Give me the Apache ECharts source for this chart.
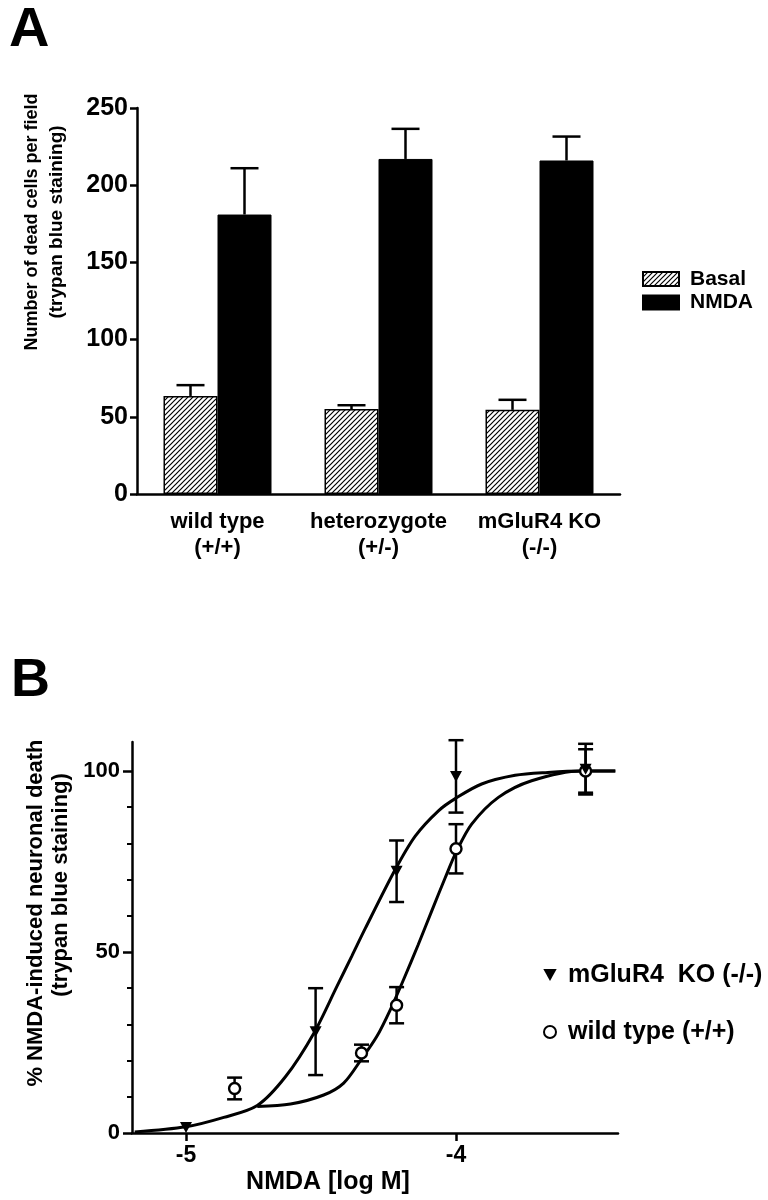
<!DOCTYPE html>
<html><head><meta charset="utf-8">
<script src="https://cdn.jsdelivr.net/npm/echarts@6/dist/echarts.min.js"></script>
<style>html,body{margin:0;padding:0;background:#fff}#c{width:768px;height:1200px}</style>
</head><body><div id="c"></div>
<script>
const FONT = '"Liberation Sans", Arial, Helvetica, sans-serif';

// ---------- Panel A data ----------
const genotypes = ['wild type\n(+/+)', 'heterozygote\n(+/-)', 'mGluR4 KO\n(-/-)'];
const basalMean = [63.5, 55, 54.5];
const basalSem  = [7, 2.5, 6.5];
const nmdaMean  = [181, 217, 216];
const nmdaSem   = [30, 19.5, 15.5];

// ---------- Panel B data ----------
const koLogM = [-5, -4.52, -4.22, -4, -3.52];
const koPct  = [1.5, 28, 72.3, 98.5, 100.5];
const koSem  = [0, 12, 8.5, 10, 7];
const wtLogM = [-4.82, -4.35, -4.22, -4, -3.52];
const wtPct  = [12.3, 22.1, 35.3, 78.5, 100];
const wtSem  = [3, 2.3, 5, 6.8, 6];
// fitted curves, points
const koFitLogM = [-5.19, -5.0, -4.86, -4.736, -4.631, -4.527, -4.441, -4.385, -4.336, -4.227, -4.151, -4.065, -4.0, -3.905, -3.781, -3.66, -3.535, -3.41];
const koFitPct  = [0.3, 1.7, 4.3, 7.6, 15.6, 27.5, 40.5, 49, 56.5, 72.5, 82, 89, 92.5, 96.4, 98.8, 99.6, 100, 100];
const wtFitLogM = [-4.736, -4.613, -4.49, -4.416, -4.352, -4.293, -4.243, -4.194, -4.14, -4.089, -4.04, -4.0, -3.942, -3.843, -3.72, -3.535, -3.41];
const wtFitPct  = [7.3, 8.0, 10.5, 13.8, 20.2, 26.7, 34.1, 42.4, 52, 61.5, 70.5, 77.5, 85.3, 92.7, 97.3, 100, 100];
const xTicksB  = [-5, -4];
const yLabelsB = [0, 50, 100];
const yMinorB  = [10, 20, 30, 40, 60, 70, 80, 90];

// hatch pattern for Basal bars
const T = 5;
const pc = document.createElement('canvas'); pc.width = T; pc.height = T;
const ctx = pc.getContext('2d');
ctx.fillStyle = '#fff'; ctx.fillRect(0, 0, T, T);
ctx.strokeStyle = '#000'; ctx.lineWidth = 1.2;
ctx.beginPath();
ctx.moveTo(-1, T + 1); ctx.lineTo(T + 1, -1);
ctx.moveTo(-1, 1); ctx.lineTo(1, -1);
ctx.moveTo(T - 1, T + 1); ctx.lineTo(T + 1, T - 1);
ctx.stroke();
const hatch = { image: pc, repeat: 'repeat' };

const BAR_W = 54;
const lineStyle = { stroke: '#000', lineWidth: 2.5 };

function errA(params, api) {
  const side = api.value(3);
  const base = api.coord([api.value(0), api.value(1)]);
  const top = api.coord([api.value(0), api.value(1) + api.value(2)]);
  const x = base[0] + side * BAR_W / 2;
  const hw = 14;
  return { type: 'group', children: [
    { type: 'line', shape: { x1: x, y1: base[1], x2: x, y2: top[1] }, style: lineStyle },
    { type: 'line', shape: { x1: x - hw, y1: top[1], x2: x + hw, y2: top[1] }, style: lineStyle }
  ]};
}
function errB(params, api) {
  const x = api.value(0), y = api.value(1), e = api.value(2);
  if (!e) return null;
  const t = api.coord([x, y + e]), b = api.coord([x, y - e]);
  const hw = 7.5;
  return { type: 'group', children: [
    { type: 'line', shape: { x1: t[0], y1: t[1], x2: b[0], y2: b[1] }, style: lineStyle },
    { type: 'line', shape: { x1: t[0] - hw, y1: t[1], x2: t[0] + hw, y2: t[1] }, style: lineStyle },
    { type: 'line', shape: { x1: b[0] - hw, y1: b[1], x2: b[0] + hw, y2: b[1] }, style: lineStyle }
  ]};
}

const axisLineStyle = { show: true, lineStyle: { color: '#000', width: 2.5 } };
const labelStyle = { color: '#000', fontWeight: 'bold', fontFamily: FONT };

const chart = echarts.init(document.getElementById('c'), null, { renderer: 'canvas' });
chart.setOption({
  animation: false,
  backgroundColor: '#fff',
  textStyle: { fontFamily: FONT },
  grid: [
    { left: 137, top: 108, width: 483, height: 386 },
    { left: 132, top: 742, width: 486, height: 391 }
  ],
  xAxis: [
    { gridIndex: 0, type: 'category', data: genotypes,
      axisLine: axisLineStyle, axisTick: { show: false },
      axisLabel: Object.assign({ interval: 0, fontSize: 22, lineHeight: 26, margin: 15 }, labelStyle) },
    { gridIndex: 1, type: 'value', min: -5.2, max: -3.4,
      axisLine: Object.assign({ onZero: false }, axisLineStyle),
      axisTick: { show: true, customValues: xTicksB, length: 8, lineStyle: { color: '#000', width: 2.5 } },
      axisLabel: Object.assign({ customValues: xTicksB, fontSize: 23, margin: 11 }, labelStyle),
      splitLine: { show: false } }
  ],
  yAxis: [
    { gridIndex: 0, type: 'value', min: 0, max: 250, interval: 50,
      axisLine: axisLineStyle,
      axisTick: { show: true, length: 7, lineStyle: { color: '#000', width: 2.5 } },
      axisLabel: Object.assign({ fontSize: 25, margin: 9 }, labelStyle),
      splitLine: { show: false } },
    { gridIndex: 1, type: 'value', min: 0, max: 108, position: 'left',
      axisLine: axisLineStyle,
      axisTick: { show: true, customValues: yLabelsB, length: 9, lineStyle: { color: '#000', width: 2.5 } },
      axisLabel: Object.assign({ customValues: yLabelsB, fontSize: 22, margin: 12 }, labelStyle),
      splitLine: { show: false } },
    { gridIndex: 1, type: 'value', min: 0, max: 108, position: 'left',
      axisLine: { show: false },
      axisTick: { show: true, customValues: yMinorB, length: 5, lineStyle: { color: '#000', width: 2 } },
      axisLabel: { show: false },
      splitLine: { show: false } }
  ],
  legend: [
    { data: [{ name: 'Basal', icon: 'rect' }, { name: 'NMDA', icon: 'rect' }], orient: 'vertical', left: 637, top: 263,
      itemWidth: 36, itemHeight: 14, itemGap: 1.5, selectedMode: false,
      textStyle: { fontSize: 21, fontWeight: 'bold', color: '#000', fontFamily: FONT, lineHeight: 22, padding: [0, 0, 0, 6] } },
    { data: ['mGluR4  KO (-/-)', 'wild type (+/+)'], orient: 'vertical', left: 538, top: 956,
      itemWidth: 14, itemHeight: 12, itemGap: 29, selectedMode: false,
      textStyle: { fontSize: 25, fontWeight: 'bold', color: '#000', fontFamily: FONT, lineHeight: 28, padding: [0, 0, 0, 6] } }
  ],
  graphic: [
    { type: 'text', x: 9, y: 31, style: { text: 'A', font: 'bold 56px ' + FONT, fill: '#000', textAlign: 'left', textVerticalAlign: 'middle' } },
    { type: 'text', x: 11, y: 681, style: { text: 'B', font: 'bold 54px ' + FONT, fill: '#000', textAlign: 'left', textVerticalAlign: 'middle' } },
    { type: 'text', x: 32, y: 222, rotation: Math.PI / 2, style: { text: 'Number of dead cells per field', font: 'bold 18px ' + FONT, fill: '#000', textAlign: 'center', textVerticalAlign: 'middle' } },
    { type: 'text', x: 57, y: 222, rotation: Math.PI / 2, style: { text: '(trypan blue staining)', font: 'bold 19px ' + FONT, fill: '#000', textAlign: 'center', textVerticalAlign: 'middle' } },
    { type: 'text', x: 36, y: 913, rotation: Math.PI / 2, style: { text: '% NMDA-induced neuronal death', font: 'bold 22px ' + FONT, fill: '#000', textAlign: 'center', textVerticalAlign: 'middle' } },
    { type: 'text', x: 61, y: 885, rotation: Math.PI / 2, style: { text: '(trypan blue staining)', font: 'bold 22px ' + FONT, fill: '#000', textAlign: 'center', textVerticalAlign: 'middle' } },
    { type: 'text', x: 328, y: 1182, style: { text: 'NMDA [log M]', font: 'bold 25px ' + FONT, fill: '#000', textAlign: 'center', textVerticalAlign: 'middle' } }
  ],
  series: [
    { name: 'Basal', type: 'bar', xAxisIndex: 0, yAxisIndex: 0, data: basalMean,
      barWidth: BAR_W, barGap: '0%',
      itemStyle: { color: hatch, borderColor: '#000', borderWidth: 1.5 } },
    { name: 'NMDA', type: 'bar', xAxisIndex: 0, yAxisIndex: 0, data: nmdaMean,
      barWidth: BAR_W, barGap: '0%',
      itemStyle: { color: '#000', borderColor: '#000', borderWidth: 1 } },
    { type: 'custom', xAxisIndex: 0, yAxisIndex: 0, z: 5,
      data: basalMean.map((v, i) => [i, v, basalSem[i], -1]).concat(nmdaMean.map((v, i) => [i, v, nmdaSem[i], 1])),
      encode: { x: 0, y: 1 }, renderItem: errA },
    { type: 'line', xAxisIndex: 1, yAxisIndex: 1, data: koFitLogM.map((x, i) => [x, koFitPct[i]]),
      showSymbol: false, smooth: 0.3, lineStyle: { color: '#000', width: 3 }, z: 2 },
    { type: 'line', xAxisIndex: 1, yAxisIndex: 1, data: wtFitLogM.map((x, i) => [x, wtFitPct[i]]),
      showSymbol: false, smooth: 0.3, lineStyle: { color: '#000', width: 3 }, z: 2 },
    { type: 'custom', xAxisIndex: 1, yAxisIndex: 1, z: 3,
      data: koLogM.map((x, i) => [x, koPct[i], koSem[i]]).concat(wtLogM.map((x, i) => [x, wtPct[i], wtSem[i]])),
      encode: { x: 0, y: 1 }, renderItem: errB },
    { name: 'wild type (+/+)', type: 'scatter', xAxisIndex: 1, yAxisIndex: 1, z: 4,
      data: wtLogM.map((x, i) => [x, wtPct[i]]),
      symbol: 'circle', symbolSize: 11,
      itemStyle: { color: '#fff', borderColor: '#000', borderWidth: 2.4, opacity: 1 } },
    { name: 'mGluR4  KO (-/-)', type: 'scatter', xAxisIndex: 1, yAxisIndex: 1, z: 5,
      data: koLogM.map((x, i) => [x, koPct[i]]),
      symbol: 'path://M0,0L10,0L5,9Z', symbolSize: [12, 11],
      itemStyle: { color: '#000', opacity: 1 } }
  ]
});
</script>
</body></html>
